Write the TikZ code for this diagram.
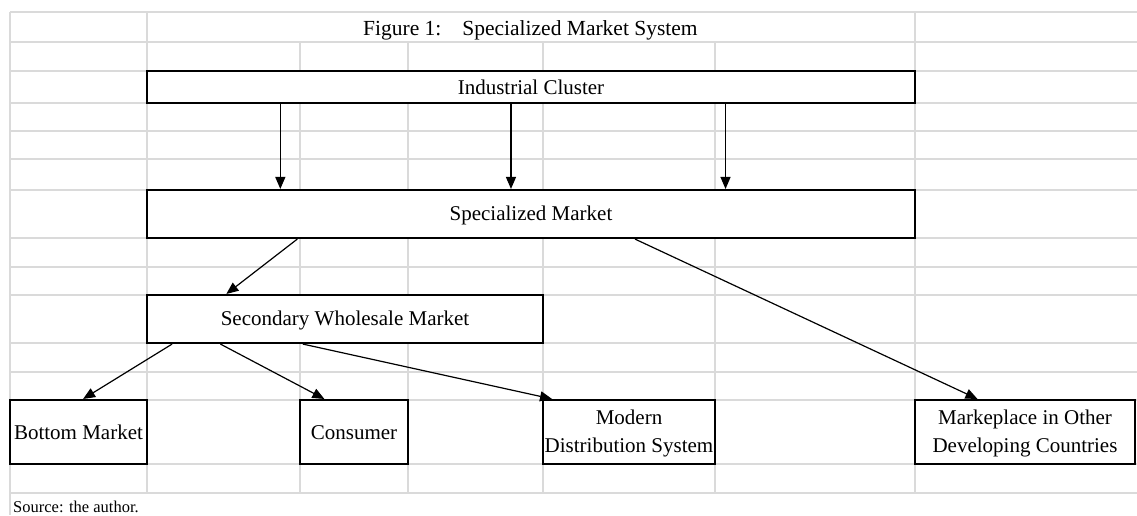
\documentclass[tikz,border=0pt]{standalone}
\usepackage{fontspec}
\setmainfont{Liberation Serif}
\usetikzlibrary{arrows.meta,calc}
\definecolor{gridgray}{HTML}{DADADA}
\newcommand\st{\rule[-3pt]{0pt}{20pt}}
\begin{document}
\begin{tikzpicture}[x=1pt,y=-1pt,
  grid/.style={draw=gridgray,line width=1.5pt},
  box/.style={draw=black,fill=white,line width=2.1pt,rectangle,inner sep=0pt,align=center,font=\fontsize{21}{28}\selectfont},
  arr/.style={draw=black,line width=1.2pt,-{Triangle[length=12pt,width=10pt]}}]
\useasboundingbox (0,0) rectangle (1137,515);
% spreadsheet grid
\foreach \yy in {12,42,71,103,131,159,190,238,267,295,343,372,400,464,493}
  \draw[grid] (10,\yy) -- (1137,\yy);
\draw[grid] (10,12) -- (10,515);
\foreach \xx in {147,915}
  \draw[grid] (\xx,12) -- (\xx,493);
\foreach \xx in {300,408,543,715}
  \draw[grid] (\xx,42) -- (\xx,493);
% title and source
\node[anchor=base west,inner sep=0pt,font=\fontsize{21.5}{26}\selectfont] (title) at (363,35) {Figure 1:\hspace{21pt}Specialized Market System};
\node[anchor=base west,inner sep=0pt,font=\fontsize{16.5}{20}\selectfont] (src) at (13,512) {Source: the author.};
% boxes
\node[box,minimum width=768pt,minimum height=32pt] (ic) at (531,87) {\st Industrial Cluster};
\node[box,minimum width=768pt,minimum height=48pt] (sm) at (531,214) {\st Specialized Market};
\node[box,minimum width=396pt,minimum height=48pt] (swm) at (345,319) {\st Secondary Wholesale Market};
\node[box,minimum width=137pt,minimum height=64pt] (bm) at (78.5,432) {\st Bottom Market};
\node[box,minimum width=108pt,minimum height=64pt] (co) at (354,432) {\st Consumer};
\node[box,minimum width=172pt,minimum height=64pt] (md) at (629,432) {\st Modern\\\st Distribution System};
\node[box,minimum width=220pt,minimum height=64pt] (mp) at (1025,432) {\st Markeplace in Other\\\st Developing Countries};
% connectors
\foreach \f in {0.1745,0.474,0.7526}
  \draw[arr] ($(ic.south west)!\f!(ic.south east)$) -- ($(sm.north west)!\f!(sm.north east)$);
\draw[arr] ($(sm.south west)!0.1966!(sm.south east)$) -- ($(swm.north west)!0.202!(swm.north east)$);
\draw[arr] ($(sm.south west)!0.635!(sm.south east)$) -- ($(mp.north west)!0.286!(mp.north east)$);
\draw[arr] ($(swm.south west)!0.0657!(swm.south east)$) -- ($(bm.north west)!0.533!(bm.north east)$);
\draw[arr] ($(swm.south west)!0.187!(swm.south east)$) -- ($(co.north west)!0.231!(co.north east)$);
\draw[arr] ($(swm.south west)!0.394!(swm.south east)$) -- ($(md.north west)!0.058!(md.north east)$);
\end{tikzpicture}
\end{document}
